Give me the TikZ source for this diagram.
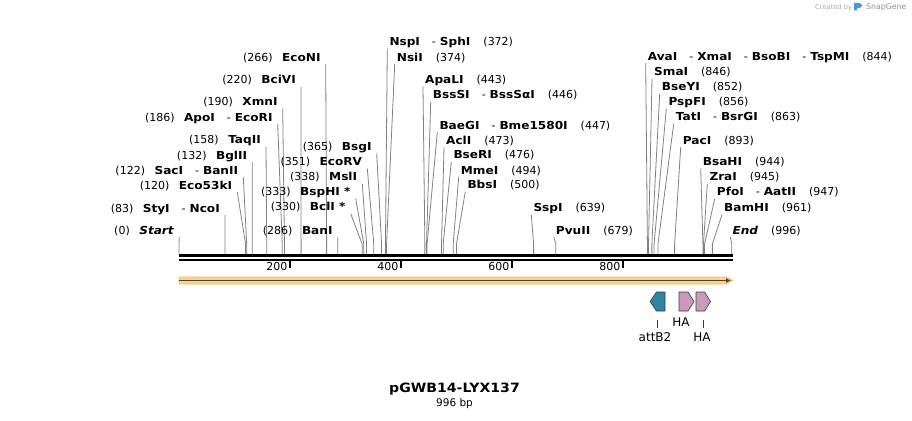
\documentclass[tikz,border=0pt]{standalone}
\usepackage{fontspec}
\setmainfont{DejaVu Sans}[BoldFeatures={FakeStretch=1.1},BoldItalicFeatures={FakeStretch=1.1}]
\usepackage{xcolor}
\usepackage{tikz}
\usetikzlibrary{calc,arrows.meta}
\definecolor{sitegray}{RGB}{130,130,130}
\definecolor{featline}{RGB}{60,60,60}
\definecolor{attteal}{RGB}{47,134,160}
\definecolor{hapink}{RGB}{206,152,186}
\definecolor{orfband}{RGB}{252,212,142}
\definecolor{orfedge}{RGB}{240,184,100}
\definecolor{orfdark}{RGB}{80,66,48}
\definecolor{markgray}{RGB}{170,170,170}
\definecolor{snapblue}{RGB}{70,150,230}

\newcommand{\enz}[1]{\textbf{#1}}
\newcommand{\enzsep}{\hspace{12pt}-\hspace{4pt}}
\newcommand{\lgap}{\hspace{9.5pt}}
\newcommand{\rgap}{\hspace{13pt}}

\tikzset{
  lsite/.style={anchor=base east, inner xsep=5pt, inner ysep=3pt, text depth=0pt, font=\fontsize{11}{13}\selectfont},
  rsite/.style={anchor=base west, inner xsep=2pt, inner ysep=3pt, text depth=0pt, font=\fontsize{11}{13}\selectfont},
  cutline/.style={draw=sitegray, line width=0.8pt},
  featbox/.style={draw=featline, line width=0.6pt, line join=round},
  featlbl/.style={anchor=base, inner sep=0pt, font=\fontsize{12}{14}\selectfont},
}

\begin{document}
\begin{tikzpicture}[x=1pt,y=-1pt]
	\def\s{0.555}
	\fill[white] (0,0) rectangle (912,420);
	\useasboundingbox (0,0) rectangle (912,420);
	
	% Backbone
	\coordinate (bbL) at (179,255.6);
	\coordinate (bbR) at (733,255.6);
	\draw[line width=3.3pt] (bbL) -- (bbR);
	\draw[line width=2pt] ($(bbL)+(0,4.1)$) -- ($(bbR)+(0,4.1)$);
	
	% Scale
	\foreach \tk in {200,400,600,800} {
		\coordinate (t\tk) at ({179+\s*\tk},260.7);
		\draw[line width=1.5pt] (t\tk) -- ++(0,7.6);
		\node[anchor=base east, inner sep=0pt, font=\fontsize{11}{13}\selectfont] (tl\tk) at ({179+\s*\tk-2.5},270) {\tk};
	}
	
	% Sites, labels on the left
	\foreach \p/\xe/\yb/\nm in {
		0/174.3/234/{\textbf{\textit{Start}}},
		83/220/212/{\enz{StyI}\enzsep\enz{NcoI}},
		120/232.3/189/{\enz{Eco53kI}},
		122/238.3/174/{\enz{SacI}\enzsep\enz{BanII}},
		132/247.3/159/{\enz{BglII}},
		158/261/143.5/{\enz{TaqII}},
		186/272.7/121/{\enz{ApoI}\enzsep\enz{EcoRI}},
		190/277.7/105.5/{\enz{XmnI}},
		220/296/83.5/{\enz{BciVI}},
		266/320.7/61/{\enz{EcoNI}},
		286/332.7/234/{\enz{BanI}},
		330/345.7/210.5/{\enz{BclI *}},
		333/350.7/195.5/{\enz{BspHI *}},
		338/357.3/180.5/{\enz{MslI}},
		351/362.3/165.5/{\enz{EcoRV}},
		365/371.7/150.5/{\enz{BsgI}}} {
		\coordinate (s\p) at ({179+\s*\p},254);
		\node[lsite] (e\p) at (\xe+5,\yb) {(\p)\lgap\nm};
		\draw[cutline] (e\p.south east) -- ($(s\p)+(0,-10)$) -- (s\p);
	}
	
	% Sites, labels on the right
	\foreach \p/\xs/\yb/\nm in {
		372/389.3/45.5/{\enz{NspI}\enzsep\enz{SphI}},
		374/396.7/61/{\enz{NsiI}},
		443/425/83.5/{\enz{ApaLI}},
		446/432.7/98.5/{\enz{BssSI}\enzsep\enz{BssSαI}},
		447/439.3/129/{\enz{BaeGI}\enzsep\enz{Bme1580I}},
		473/446/144/{\enz{AclI}},
		476/453.3/158.5/{\enz{BseRI}},
		494/460.7/174/{\enz{MmeI}},
		500/467.3/188.5/{\enz{BbsI}},
		639/533.3/211.5/{\enz{SspI}},
		679/555.7/234/{\enz{PvuII}},
		844/647.7/60/{\enz{AvaI}\enzsep\enz{XmaI}\enzsep\enz{BsoBI}\enzsep\enz{TspMI}},
		846/654/75.5/{\enz{SmaI}},
		852/661.7/90.5/{\enz{BseYI}},
		856/668.3/105.5/{\enz{PspFI}},
		863/675.7/120.5/{\enz{TatI}\enzsep\enz{BsrGI}},
		893/682.7/144/{\enz{PacI}},
		944/702.7/165.5/{\enz{BsaHI}},
		945/709.3/180.5/{\enz{ZraI}},
		947/716.7/195.5/{\enz{PfoI}\enzsep\enz{AatII}},
		961/724/211.5/{\enz{BamHI}},
		996/732.3/234/{\textbf{\textit{End}}}} {
		\coordinate (s\p) at ({179+\s*\p},254);
		\node[rsite] (e\p) at (\xs-2,\yb) {\nm\rgap(\p)};
		\draw[cutline] (e\p.south west) -- ($(s\p)+(0,-10)$) -- (s\p);
	}
	
	% ORF arrow
	\coordinate (orfL) at (179,280.5);
	\coordinate (orfR) at (733,280.5);
	\filldraw[fill=orfband, draw=orfedge, line width=0.6pt] (179,277) -- (727,277) -- (orfR) -- (727,284) -- (179,284) -- cycle;
	\draw[orfdark, line width=1.6pt, -{Latex[length=5pt,width=5pt]}] (orfL) -- ($(orfR)+(-2,0)$);
	
	% Features
	\draw[featbox, fill=attteal] (650,301.5) -- (656.5,292) -- (665,292) -- (665,311) -- (656.5,311) -- cycle;
	\draw[featbox, fill=hapink] (679,292) -- (688,292) -- (694,301.5) -- (688,311) -- (679,311) -- cycle;
	\draw[featbox, fill=hapink] (696,292) -- (704.5,292) -- (710.5,301.5) -- (704.5,311) -- (696,311) -- cycle;
	\coordinate (attB2a) at (657.5,319.5);
	\coordinate (attB2b) at (657.5,328);
	\coordinate (ha2a) at (703.3,319.5);
	\coordinate (ha2b) at (703.3,328);
	\draw[featline, line width=0.8pt] (attB2a) -- (attB2b);
	\draw[featline, line width=0.8pt] (ha2a) -- (ha2b);
	\node[featlbl] (attB2) at (655,341.7) {attB2};
	\node[featlbl] (ha1) at (681,326) {HA};
	\node[featlbl] (ha2) at (702,341.7) {HA};
	
	% Title
	\node[anchor=base, inner sep=0pt, font=\fontsize{12.8}{15}\selectfont\bfseries] (title) at (454.5,392.3) {pGWB14-LYX137};
	\node[anchor=base, inner sep=0pt, font=\fontsize{10.5}{12}\selectfont] (len) at (454.5,406.7) {996 bp};
	
	% Watermark
	\node[anchor=base west, inner sep=0pt, text=markgray, font=\fontsize{6.7}{8}\selectfont] (made) at (815,9.5) {Created by};
	\fill[snapblue] (854,10.5) -- (854,3) -- (859,3) .. controls (863,3) and (863,8) .. (859,8) -- (857,8) -- (857,10.5) -- cycle;
	\node[anchor=base west, inner sep=0pt, text=markgray!85!black, font=\fontsize{7.8}{9}\selectfont] (snap) at (866,9.5) {SnapGene};
\end{tikzpicture}
\end{document}
